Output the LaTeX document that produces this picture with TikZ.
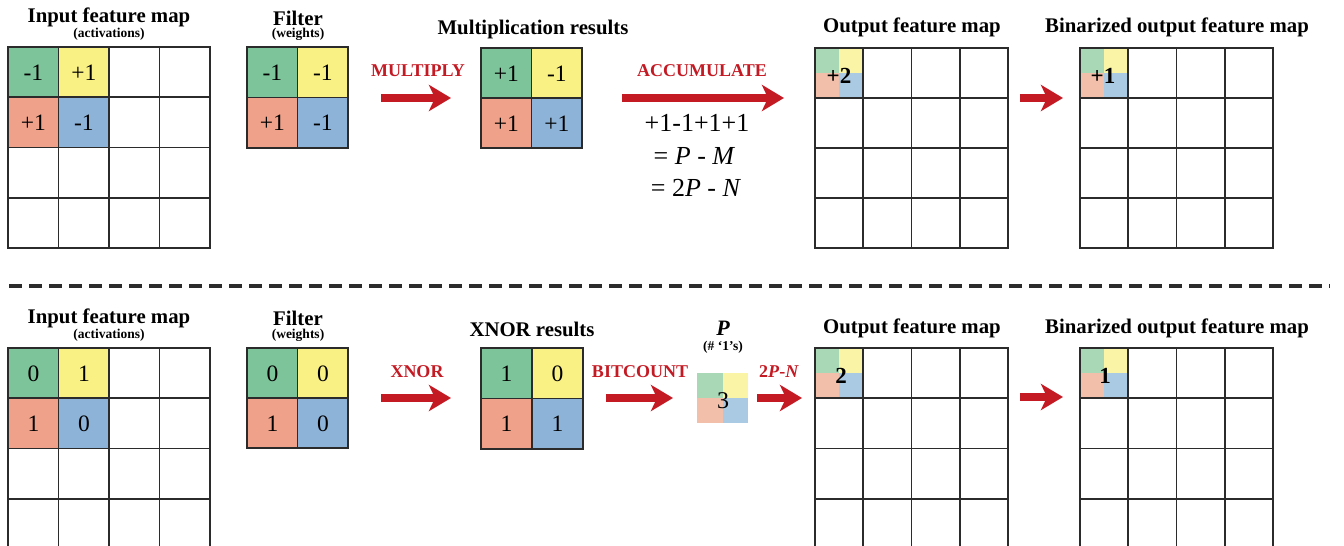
\documentclass[tikz,border=0pt]{standalone}
\usepackage{fontspec}
\setmainfont{Liberation Serif}
\usetikzlibrary{arrows.meta}

\definecolor{cgreen}{HTML}{7DC49A}
\definecolor{cyellow}{HTML}{FAF185}
\definecolor{csalmon}{HTML}{F0A189}
\definecolor{cblue}{HTML}{8DB3D9}
\definecolor{lgreen}{HTML}{A8D8B6}
\definecolor{lyellow}{HTML}{F9F4A6}
\definecolor{lsalmon}{HTML}{F2BFAA}
\definecolor{lblue}{HTML}{AACAE4}
\definecolor{opred}{HTML}{C41A24}
\definecolor{gridc}{HTML}{2B2B2B}

% n x n grid of lines: x0, y0, columns, rows, cell width, cell height
\newcommand\mapgrid[6]{%
  \foreach \k in {0,...,#3}{\draw[gridline] ({#1+\k*#5},#2) -- ({#1+\k*#5},{#2+#4*#6});}
  \foreach \k in {0,...,#4}{\draw[gridline] (#1,{#2+\k*#6}) -- ({#1+#3*#5},{#2+\k*#6});}
}

\tikzset{
  gridline/.style={draw=gridc, line width=1.7pt, line cap=rect},
  mapframe/.style={inner sep=0pt, anchor=north west},
  cellbox/.style={inner sep=0pt, anchor=north west, minimum width=50.5pt, minimum height=50.5pt,
                  font=\fontsize{23.5}{24}\selectfont},
  quad/.style={inner sep=0pt, anchor=north west},
  title/.style={font=\bfseries\fontsize{20.8}{21}\selectfont, inner sep=0pt},
  subtitle/.style={font=\bfseries\fontsize{13.5}{14}\selectfont, inner sep=0pt},
  oplabel/.style={font=\bfseries\fontsize{18}{18}\selectfont, text=opred, inner sep=0pt},
  formula/.style={font=\fontsize{26}{26}\selectfont, inner sep=0pt},
  outval/.style={font=\bfseries\fontsize{23}{23}\selectfont, inner sep=0pt},
  bigarrow/.style={draw=opred, line width=7.5pt,
                   -{Stealth[length=22pt, width=26pt, inset=6pt]}},
  separator/.style={draw=gridc, line width=3.5pt, dash pattern=on 13pt off 7pt},
}

\begin{document}
\begin{tikzpicture}[x=1pt, y=-1pt]
\useasboundingbox (0,0) rectangle (1344,546);
\clip (0,0) rectangle (1344,546);

% ================= upper row: real-valued convolution =================
% input feature map
\node[title] (tinT) at (109,17.5) {Input feature map};
\node[subtitle] (tinS) at (109,34.5) {(activations)};
\node[mapframe, minimum width=202pt, minimum height=201pt] (tin) at (8,47) {};
\node[cellbox, fill=cgreen]  (tin00) at (8,47)      {-1};
\node[cellbox, fill=cyellow] (tin01) at (58.5,47)   {+1};
\node[cellbox, fill=csalmon] (tin10) at (8,97.25)   {+1};
\node[cellbox, fill=cblue]   (tin11) at (58.5,97.25){-1};
\mapgrid{8}{47}{4}{4}{50.5}{50.25}

% filter
\node[title] (tfT) at (298,18) {Filter};
\node[subtitle] (tfS) at (298,34.5) {(weights)};
\node[cellbox, fill=cgreen]  (tf00) at (247,47)     {-1};
\node[cellbox, fill=cyellow] (tf01) at (297.5,47)   {-1};
\node[cellbox, fill=csalmon] (tf10) at (247,97.5)   {+1};
\node[cellbox, fill=cblue]   (tf11) at (297.5,97.5) {-1};
\mapgrid{247}{47}{2}{2}{50.5}{50.5}

% multiplication results
\node[title] (tmT) at (533,29) {Multiplication results};
\node[cellbox, fill=cgreen]  (tm00) at (481,48)     {+1};
\node[cellbox, fill=cyellow] (tm01) at (531.5,48)   {-1};
\node[cellbox, fill=csalmon] (tm10) at (481,98)     {+1};
\node[cellbox, fill=cblue]   (tm11) at (531.5,98)   {+1};
\mapgrid{481}{48}{2}{2}{50.5}{50}

% multiply / accumulate
\node[oplabel] (tmulL) at (418,71) {MULTIPLY};
\coordinate (tmulA) at (381,98);
\coordinate (tmulB) at (451,98);
\draw[bigarrow] (tmulA) -- (tmulB);

\node[oplabel] (taccL) at (702,71) {ACCUMULATE};
\coordinate (taccA) at (622,98);
\coordinate (taccB) at (784,98);
\draw[bigarrow] (taccA) -- (taccB);

\node[formula] (tf1) at (697,123) {+1-1+1+1};
\node[formula] (tf2) at (694.5,156) {= \textit{P} - \textit{M}};
\node[formula] (tf3) at (696,188) {= 2\textit{P} - \textit{N}};

% output feature map
\node[title] (toT) at (912,27) {Output feature map};
\node[quad, fill=lgreen,  minimum width=24pt, minimum height=25pt] (toq1) at (815,48) {};
\node[quad, fill=lyellow, minimum width=24pt, minimum height=25pt] (toq2) at (839,48) {};
\node[quad, fill=lsalmon, minimum width=24pt, minimum height=25pt] (toq3) at (815,73) {};
\node[quad, fill=lblue,   minimum width=24pt, minimum height=25pt] (toq4) at (839,73) {};
\node[outval] (toV) at (839,76) {+2};
\mapgrid{815}{48}{4}{4}{48.25}{50}

\coordinate (tbinA) at (1020,98);
\coordinate (tbinB) at (1063,98);
\draw[bigarrow] (tbinA) -- (tbinB);

% binarized output feature map
\node[title] (tbT) at (1177,27) {Binarized output feature map};
\node[quad, fill=lgreen,  minimum width=24pt, minimum height=25pt] (tbq1) at (1080,48) {};
\node[quad, fill=lyellow, minimum width=24pt, minimum height=25pt] (tbq2) at (1104,48) {};
\node[quad, fill=lsalmon, minimum width=24pt, minimum height=25pt] (tbq3) at (1080,73) {};
\node[quad, fill=lblue,   minimum width=24pt, minimum height=25pt] (tbq4) at (1104,73) {};
\node[outval] (tbV) at (1103,76) {+1};
\mapgrid{1080}{48}{4}{4}{48.25}{50}

% ================= separator =================
\coordinate (sepA) at (9,286);
\coordinate (sepB) at (1330,286);
\draw[separator] (sepA) -- (sepB);

% ================= lower row: binary (XNOR) convolution =================
\node[title] (binT) at (109,318) {Input feature map};
\node[subtitle] (binS) at (109,335) {(activations)};
\node[cellbox, fill=cgreen]  (bin00) at (8,348)      {0};
\node[cellbox, fill=cyellow] (bin01) at (58.5,348)   {1};
\node[cellbox, fill=csalmon] (bin10) at (8,398.3)    {1};
\node[cellbox, fill=cblue]   (bin11) at (58.5,398.3) {0};
\mapgrid{8}{348}{4}{4}{50.5}{50.3}

\node[title] (bfT) at (298,318) {Filter};
\node[subtitle] (bfS) at (298,335.5) {(weights)};
\node[cellbox, fill=cgreen]  (bf00) at (247,348)     {0};
\node[cellbox, fill=cyellow] (bf01) at (297.5,348)   {0};
\node[cellbox, fill=csalmon] (bf10) at (247,398)     {1};
\node[cellbox, fill=cblue]   (bf11) at (297.5,398)   {0};
\mapgrid{247}{348}{2}{2}{50.5}{50}

\node[title] (bxT) at (532,329) {XNOR results};
\node[cellbox, fill=cgreen]  (bx00) at (481,348)     {1};
\node[cellbox, fill=cyellow] (bx01) at (532,348)     {0};
\node[cellbox, fill=csalmon] (bx10) at (481,398.5)   {1};
\node[cellbox, fill=cblue]   (bx11) at (532,398.5)   {1};
\mapgrid{481}{348}{2}{2}{51}{50.5}

\node[oplabel] (bxorL) at (417,372) {XNOR};
\coordinate (bxorA) at (381,398);
\coordinate (bxorB) at (451,398);
\draw[bigarrow] (bxorA) -- (bxorB);

\node[oplabel] (bcntL) at (640,372) {BITCOUNT};
\coordinate (bcntA) at (606,398);
\coordinate (bcntB) at (673,398);
\draw[bigarrow] (bcntA) -- (bcntB);

% popcount P
\node[font=\bfseries\itshape\fontsize{22}{22}\selectfont, inner sep=0pt] (bpT) at (723,328) {P};
\node[subtitle] (bpS) at (723,347) {(\# ‘1’s)};
\node[quad, fill=lgreen,  minimum width=25.5pt, minimum height=25pt] (bpq1) at (697,373) {};
\node[quad, fill=lyellow, minimum width=25.5pt, minimum height=25pt] (bpq2) at (722.5,373) {};
\node[quad, fill=lsalmon, minimum width=25.5pt, minimum height=25pt] (bpq3) at (697,398) {};
\node[quad, fill=lblue,   minimum width=25.5pt, minimum height=25pt] (bpq4) at (722.5,398) {};
\node[inner sep=0pt, font=\fontsize{24}{24}\selectfont] (bpV) at (723,401) {3};

\node[oplabel] (bscL) at (779,372) {2\textit{P}-\textit{N}};
\coordinate (bscA) at (757,398);
\coordinate (bscB) at (802,398);
\draw[bigarrow] (bscA) -- (bscB);

% output feature map
\node[title] (boT) at (912,328) {Output feature map};
\node[quad, fill=lgreen,  minimum width=24pt, minimum height=25pt] (boq1) at (815,348) {};
\node[quad, fill=lyellow, minimum width=24pt, minimum height=25pt] (boq2) at (839,348) {};
\node[quad, fill=lsalmon, minimum width=24pt, minimum height=25pt] (boq3) at (815,373) {};
\node[quad, fill=lblue,   minimum width=24pt, minimum height=25pt] (boq4) at (839,373) {};
\node[outval] (boV) at (841,376) {2};
\mapgrid{815}{348}{4}{4}{48.25}{50.3}

\coordinate (bbinA) at (1020,397);
\coordinate (bbinB) at (1063,397);
\draw[bigarrow] (bbinA) -- (bbinB);

% binarized output feature map
\node[title] (bbT) at (1177,328) {Binarized output feature map};
\node[quad, fill=lgreen,  minimum width=24pt, minimum height=25pt] (bbq1) at (1080,348) {};
\node[quad, fill=lyellow, minimum width=24pt, minimum height=25pt] (bbq2) at (1104,348) {};
\node[quad, fill=lsalmon, minimum width=24pt, minimum height=25pt] (bbq3) at (1080,373) {};
\node[quad, fill=lblue,   minimum width=24pt, minimum height=25pt] (bbq4) at (1104,373) {};
\node[outval] (bbV) at (1105,376) {1};
\mapgrid{1080}{348}{4}{4}{48.25}{50.3}
\end{tikzpicture}
\end{document}
